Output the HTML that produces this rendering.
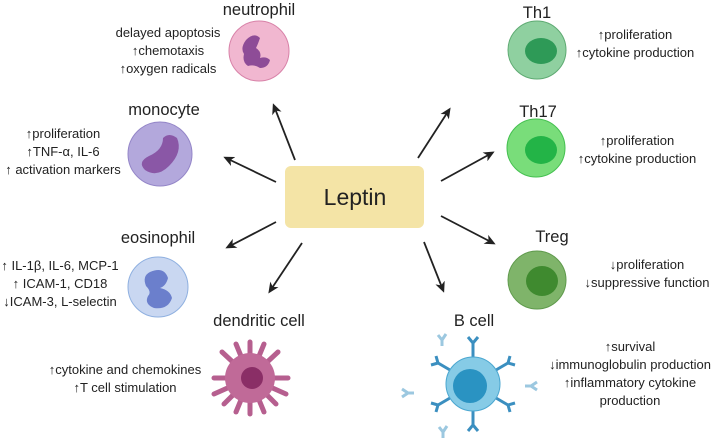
<!DOCTYPE html>
<html><head><meta charset="utf-8"><style>
html,body{margin:0;padding:0;background:#fff;}
svg{display:block;font-family:"Liberation Sans",Arial,sans-serif;}
.t{font-size:16.5px;fill:#222;text-anchor:middle;}
.b{font-size:13px;fill:#222;text-anchor:middle;}
</style></head><body>
<svg width="720" height="444" viewBox="0 0 720 444" xmlns="http://www.w3.org/2000/svg">
<defs>
<marker id="ah" markerWidth="11" markerHeight="10" refX="8" refY="5" orient="auto" markerUnits="userSpaceOnUse">
<path d="M0,0 L11,5 L0,10 L3,5 z" fill="#222"/></marker>
</defs>
<g stroke="#222" stroke-width="1.8" fill="none" marker-end="url(#ah)">
<line x1="295" y1="160" x2="274" y2="106"/>
<line x1="276" y1="182" x2="226" y2="158"/>
<line x1="276" y1="222" x2="228" y2="247"/>
<line x1="302" y1="243" x2="270" y2="291"/>
<line x1="418" y1="158" x2="449" y2="110"/>
<line x1="441" y1="181" x2="492" y2="153"/>
<line x1="441" y1="216" x2="493" y2="243"/>
<line x1="424" y1="242" x2="443" y2="290"/>
</g>
<rect x="285" y="166" width="139" height="62" rx="6" fill="#f4e4a6"/>
<text x="355" y="205" font-size="23" fill="#222" text-anchor="middle">Leptin</text>

<text class="t" x="259" y="15">neutrophil</text>
<circle cx="259" cy="51" r="30" fill="#f1b7d0" stroke="#d882a8" stroke-width="1"/>
<path d="M246,40 q8,-8 14,-2 q-2,6 -4,10 q6,4 4,10 q6,-2 10,2 q-2,8 -10,8 q-6,-4 -12,-2 q-6,-4 -4,-12 q-4,-6 2,-14z" fill="#8e4c97"/>
<text class="b" x="168" y="37">delayed apoptosis</text>
<text class="b" x="168" y="55">↑chemotaxis</text>
<text class="b" x="168" y="73">↑oxygen radicals</text>

<text class="t" x="164" y="115">monocyte</text>
<circle cx="160" cy="154" r="32" fill="#b3a8dc" stroke="#9486c8" stroke-width="1"/>
<path d="M145,170 q-8,-8 4,-14 q14,-6 14,-18 q6,-6 14,0 q6,14 -8,28 q-12,12 -24,4z" fill="#8a57a6"/>
<text class="b" x="63" y="138">↑proliferation</text>
<text class="b" x="63" y="156">↑TNF-α, IL-6</text>
<text class="b" x="63" y="174">↑ activation markers</text>

<text class="t" x="158" y="243">eosinophil</text>
<circle cx="158" cy="287" r="30" fill="#c9d7f1" stroke="#8fb0e0" stroke-width="1"/>
<path d="M150,272 q14,-6 18,6 q-2,8 -8,10 q10,2 12,10 q-4,12 -18,10 q-10,-4 -6,-12 q4,-4 -2,-10 q-4,-10 4,-14z" fill="#6b7fcc"/>
<text class="b" x="60" y="270">↑ IL-1β, IL-6, MCP-1</text>
<text class="b" x="60" y="288">↑ ICAM-1, CD18</text>
<text class="b" x="60" y="306">↓ICAM-3, L-selectin</text>

<text class="t" x="259" y="326">dendritic cell</text>
<g stroke="#b65f8f" stroke-width="5" stroke-linecap="round" fill="none">
<path d="M250,378 L250,342 M250,378 L278,352 M250,378 L288,378 M250,378 L276,404 M250,378 L250,414 M250,378 L224,404 M250,378 L214,378 M250,378 L222,352 M250,378 L264,344 M250,378 L236,344 M250,378 L286,394 M250,378 L214,394 M250,378 L264,412 M250,378 L236,412"/>
</g>
<circle cx="250" cy="378" r="25" fill="#c06a98"/>
<circle cx="252" cy="378" r="11" fill="#8a2e66"/>
<text class="b" x="125" y="374">↑cytokine and chemokines</text>
<text class="b" x="125" y="392">↑T cell stimulation</text>

<text class="t" x="537" y="18">Th1</text>
<circle cx="537" cy="50" r="29" fill="#8fd0a0" stroke="#5eaa72" stroke-width="1"/>
<ellipse cx="541" cy="51" rx="16" ry="13" fill="#2e9a57"/>
<text class="b" x="635" y="39">↑proliferation</text>
<text class="b" x="635" y="57">↑cytokine production</text>

<text class="t" x="538" y="117">Th17</text>
<circle cx="536" cy="148" r="29" fill="#79dd7a" stroke="#45c050" stroke-width="1"/>
<ellipse cx="541" cy="150" rx="16" ry="14" fill="#23b447"/>
<text class="b" x="637" y="145">↑proliferation</text>
<text class="b" x="637" y="163">↑cytokine production</text>

<text class="t" x="552" y="242">Treg</text>
<circle cx="537" cy="280" r="29" fill="#7fb46a" stroke="#5f9a4c" stroke-width="1"/>
<ellipse cx="542" cy="281" rx="16" ry="15" fill="#3f8a2f"/>
<text class="b" x="647" y="269">↓proliferation</text>
<text class="b" x="647" y="287">↓suppressive function</text>

<text class="t" x="474" y="326">B cell</text>
<g stroke="#3b8fc0" stroke-width="3" fill="none">
<path d="M473,357 v-14 l-5,-6 M473,343 l5,-6"/>
<path d="M473,411 v14 l-5,6 M473,425 l5,6"/>
<path d="M450,370 l-12,-7 l-7,2 M438,363 l-2,-7"/>
<path d="M496,370 l12,-7 l7,2 M508,363 l2,-7"/>
<path d="M450,398 l-12,7 l-7,-2 M438,405 l-2,7"/>
<path d="M496,398 l12,7 l7,-2 M508,405 l2,7"/>
</g>
<g stroke="#9cc8e0" stroke-width="3" fill="none">
<path d="M442,340 l-4,-5 M442,340 l4,-6 M442,340 v6"/>
<path d="M408,393 l-6,-4 M408,393 l-6,4 M408,393 h6"/>
<path d="M531,386 l6,-4 M531,386 l6,4 M531,386 h-6"/>
<path d="M443,432 l-4,-5 M443,432 l4,-6 M443,432 v6"/>
</g>
<circle cx="473" cy="384" r="27" fill="#86cbe6" stroke="#4ba7d0" stroke-width="1"/>
<circle cx="470" cy="386" r="17" fill="#2a93c2"/>
<text class="b" x="630" y="351">↑survival</text>
<text class="b" x="630" y="369">↓immunoglobulin production</text>
<text class="b" x="630" y="387">↑inflammatory cytokine</text>
<text class="b" x="630" y="405">production</text>
</svg>
</body></html>
